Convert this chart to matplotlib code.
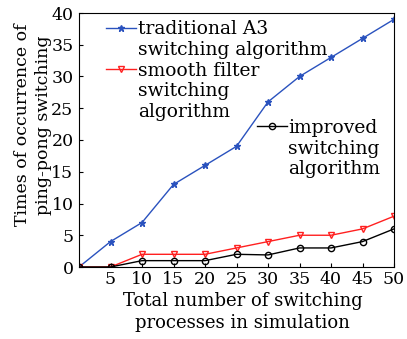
import matplotlib.pyplot as plt
from matplotlib.lines import Line2D

x_vals = [0, 5, 10, 15, 20, 25, 30, 35, 40, 45, 50]
traditional_a3 = [0, 4, 7, 13, 16, 19, 26, 30, 33, 36, 39]
smooth_filter = [0, 0, 2, 2, 2, 3, 4, 5, 5, 6, 8]
improved = [0, 0, 1, 1, 1, 2, 1.9, 3, 3, 4, 6]
x_ticks = [5, 10, 15, 20, 25, 30, 35, 40, 45, 50]
y_ticks = [0, 5, 10, 15, 20, 25, 30, 35, 40]

plt.rcParams['font.family'] = ['DejaVu Serif']

fig = plt.figure(figsize=(4.07, 3.39), dpi=100)
ax = fig.add_axes([79 / 407, 1 - 267 / 339, 315 / 407, 254 / 339])

l1, = ax.plot(x_vals, traditional_a3, color='#2a52be', marker='*', markersize=4.5,
              linewidth=1.0)
l2, = ax.plot(x_vals, smooth_filter, color='#ff2020', marker='v', markersize=5,
              markerfacecolor='none', linewidth=1.0)
l3, = ax.plot(x_vals, improved, color='black', marker='o', markersize=4.5,
              markerfacecolor='none', linewidth=1.0)

ax.set_xlim(0, 50)
ax.set_ylim(0, 40)
ax.set_xticks(x_ticks)
ax.set_yticks(y_ticks)
ax.tick_params(direction='in', length=3, labelsize=12.5)
ax.tick_params(axis='y', pad=4)
ax.tick_params(axis='x', pad=3)

# etiquetas de ejes colocadas a mano
ax.set_xlabel('Total number of switching\nprocesses in simulation', fontsize=13,
              linespacing=1.25, va='top')
ax.xaxis.set_label_coords(0.52, -0.1)
ax.set_ylabel('Times of occurrence of\nping-pong switching', fontsize=12.5,
              linespacing=1.25, va='center')
ax.yaxis.set_label_coords(-0.146, 0.56)

blank = Line2D([], [], linestyle='none')
leg1 = ax.legend(handles=[l1, blank, l2, blank, blank],
                 labels=['traditional A3', 'switching algorithm', 'smooth filter',
                         'switching', 'algorithm'],
                 loc='upper left', bbox_to_anchor=(0.05, 1.015),
                 frameon=False, fontsize=13.5, handlelength=1.6, handletextpad=0.1,
                 labelspacing=0.14, borderaxespad=0.2)
ax.add_artist(leg1)
leg2 = ax.legend(handles=[l3, blank, blank],
                 labels=['improved', 'switching', 'algorithm'],
                 loc='upper left', bbox_to_anchor=(0.528, 0.627),
                 frameon=False, fontsize=13.5, handlelength=1.6, handletextpad=0.1,
                 labelspacing=0.14, borderaxespad=0.2)

fig.savefig('out.png', dpi=100)
